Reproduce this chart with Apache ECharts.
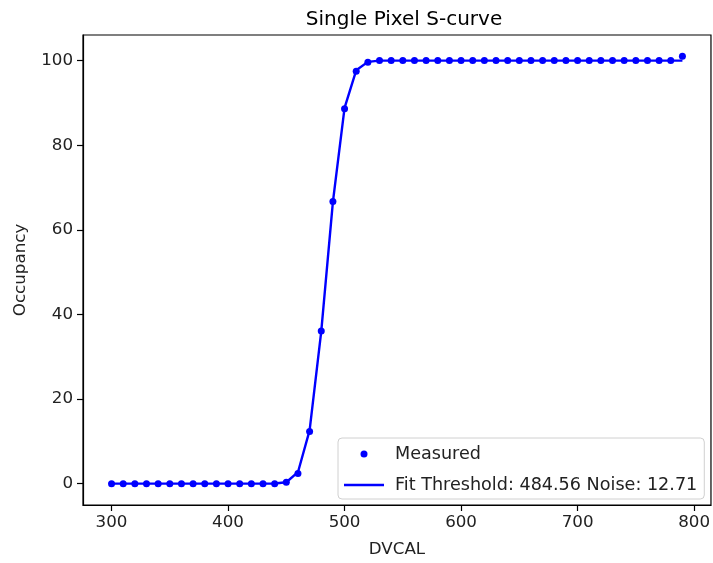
<!DOCTYPE html>
<html>
<head>
<meta charset="utf-8">
<script src="https://cdn.jsdelivr.net/npm/echarts@6/dist/echarts.min.js"></script>
<style>
  html, body { margin: 0; padding: 0; background: #fff; }
  #chart { width: 713px; height: 563px; }
</style>
</head>
<body>
<div id="chart"></div>
<script>
// DVCAL steps
const dvcal = [300, 310, 320, 330, 340, 350, 360, 370, 380, 390,
  400, 410, 420, 430, 440, 450, 460, 470, 480, 490,
  500, 510, 520, 530, 540, 550, 560, 570, 580, 590,
  600, 610, 620, 630, 640, 650, 660, 670, 680, 690,
  700, 710, 720, 730, 740, 750, 760, 770, 780, 790];

// measured occupancy
const measured = [0, 0, 0, 0, 0, 0, 0, 0, 0, 0,
  0, 0, 0, 0, 0, 0.3, 2.4, 12.3, 36.1, 66.7,
  88.6, 97.5, 99.6, 100, 100, 100, 100, 100, 100, 100,
  100, 100, 100, 100, 100, 100, 100, 100, 100, 100,
  100, 100, 100, 100, 100, 100, 100, 100, 100, 101];

// fitted s-curve at the same steps
const fitted = [0, 0, 0, 0, 0, 0, 0, 0, 0, 0,
  0, 0, 0, 0, 0.02, 0.33, 2.7, 12.6, 36.0, 66.6,
  88.8, 97.7, 99.7, 100, 100, 100, 100, 100, 100, 100,
  100, 100, 100, 100, 100, 100, 100, 100, 100, 100,
  100, 100, 100, 100, 100, 100, 100, 100, 100, 100];

const xTicks = [300, 400, 500, 600, 700, 800];
const yTicks = [0, 20, 40, 60, 80, 100];

const BLUE = "#0000ff";
const FONT = "DejaVu Sans";

const chart = echarts.init(document.getElementById("chart"), null, { renderer: "canvas" });

const option = {
  backgroundColor: "#fff",
  animation: false,
  title: {
    text: "Single Pixel S-curve",
    left: 399,
    textAlign: "center",
    top: 5,
    textStyle: { fontFamily: FONT, fontSize: 20, fontWeight: "normal", color: "#000" },
  },
  grid: {
    left: 83,
    top: 35,
    width: 632,
    height: 471,
    show: true,
    borderColor: "#000",
    borderWidth: 1.2,
    backgroundColor: "transparent",
  },
  legend: {
    orient: "vertical",
    left: 338,
    top: 438,
    padding: [7, 7, 5, 6],
    itemGap: 13,
    itemWidth: 40,
    itemHeight: 7,
    borderColor: "#d0d0d0",
    borderWidth: 1,
    borderRadius: 4,
    backgroundColor: "rgba(255,255,255,0.8)",
    textStyle: { fontFamily: FONT, fontSize: 17.6, color: "#222", padding: [0, 0, 0, 6] },
    data: [
      { name: "Measured", icon: "circle" },
      { name: "Fit Threshold: 484.56 Noise: 12.71", icon: "path://M0,0 L40,0 L40,2.4 L0,2.4 Z" },
    ],
  },
  xAxis: {
    type: "value",
    min: 275.5,
    max: 814.5,
    name: "DVCAL",
    nameLocation: "middle",
    nameGap: 36,
    nameTextStyle: { fontFamily: FONT, fontSize: 16.7, color: "#222" },
    axisLine: { show: true, onZero: false, lineStyle: { color: "#000", width: 1.2 } },
    axisTick: { show: true, length: 6, customValues: xTicks, lineStyle: { color: "#000", width: 1.2 } },
    axisLabel: { customValues: xTicks, margin: 9, fontFamily: FONT, fontSize: 16.7, color: "#222" },
    splitLine: { show: false },
  },
  yAxis: {
    type: "value",
    min: -5.05,
    max: 106.05,
    name: "Occupancy",
    nameLocation: "middle",
    nameGap: 54,
    nameTextStyle: { fontFamily: FONT, fontSize: 16.7, color: "#222" },
    axisLine: { show: true, onZero: false, lineStyle: { color: "#000", width: 1.2 } },
    axisTick: { show: true, length: 6, customValues: yTicks, lineStyle: { color: "#000", width: 1.2 } },
    axisLabel: { customValues: yTicks, margin: 10, fontFamily: FONT, fontSize: 16.7, color: "#222" },
    splitLine: { show: false },
  },
  series: [
    {
      name: "Fit Threshold: 484.56 Noise: 12.71",
      type: "line",
      data: dvcal.map((x, i) => [x, fitted[i]]),
      showSymbol: false,
      symbol: "none",
      itemStyle: { color: BLUE },
      lineStyle: { color: BLUE, width: 2.4 },
      z: 2,
    },
    {
      name: "Measured",
      type: "scatter",
      data: dvcal.map((x, i) => [x, measured[i]]),
      symbol: "circle",
      symbolSize: 7,
      itemStyle: { color: BLUE, opacity: 1 },
      z: 3,
    },
  ],
};

chart.setOption(option);
</script>
</body>
</html>
